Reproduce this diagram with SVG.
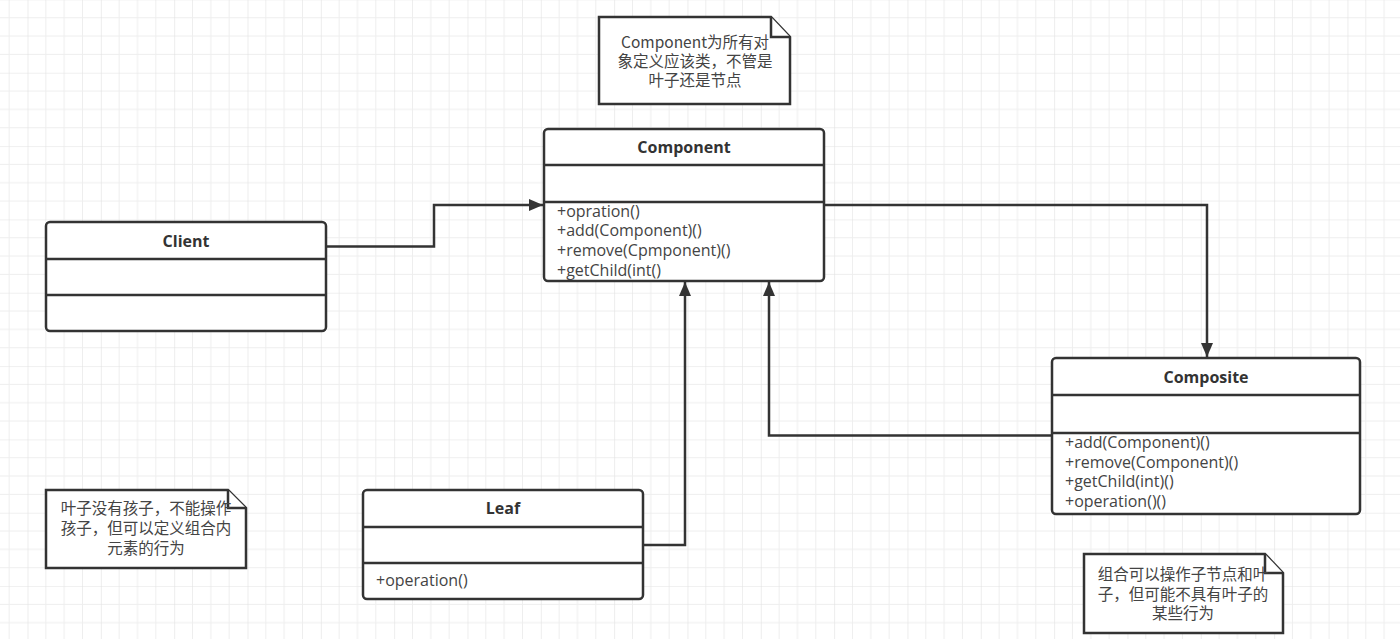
<svg xmlns="http://www.w3.org/2000/svg" width="1400" height="639" viewBox="0 0 1400 639">
<defs>
<pattern id="grid" patternUnits="userSpaceOnUse" x="27.5" y="-0.6" width="73.33" height="73.33">
<path d="M18.33 0V73.33M36.67 0V73.33M55 0V73.33M0 18.33H73.33M0 36.67H73.33M0 55H73.33" stroke="#eeeeee" stroke-width="1" fill="none"/>
<path d="M0 0V73.33M0 0H73.33" stroke="#e2e2e2" stroke-width="1.2" fill="none"/>
</pattern>
<marker id="arrow" viewBox="0 0 14 12" refX="14" refY="6" markerWidth="14" markerHeight="12" markerUnits="userSpaceOnUse" orient="auto">
<path d="M0 0L14 6L0 12Z" fill="#333"/>
</marker>
<style>
.box{fill:#fff;stroke:#333;stroke-width:2.5}
.sep{stroke:#333;stroke-width:2.5}
.title{font-family:"Open Sans","Noto Sans CJK SC",sans-serif;font-size:16px;font-weight:bold;fill:#333;text-anchor:middle}
.m{font-family:"Open Sans","Noto Sans CJK SC",sans-serif;font-size:16px;fill:#444}
.note{fill:#fff;stroke:#333;stroke-width:2.5;stroke-linejoin:miter}
.nt{font-family:"Noto Sans CJK SC",sans-serif;font-size:15.5px;fill:#444;text-anchor:middle}
.c{fill:none;stroke:#333;stroke-width:2.5}
</style>
</defs>
<rect width="1400" height="639" fill="#fff"/>
<rect width="1400" height="639" fill="url(#grid)"/>

<g id="connectors">
<path class="c" d="M327 246.5H434V205H543" marker-end="url(#arrow)"/>
<path class="c" d="M824 205H1207V357" marker-end="url(#arrow)"/>
<path class="c" d="M1052 435.5H769V282" marker-end="url(#arrow)"/>
<path class="c" d="M643 545H685V282" marker-end="url(#arrow)"/>
</g>

<g id="note-component">
<path class="note" d="M599 17H771L790 37V104H599Z"/>
<path class="note" d="M771 17V37H790" fill="none"/>
<text class="nt" x="695" y="48">Component为所有对</text>
<text class="nt" x="695" y="67">象定义应该类，不管是</text>
<text class="nt" x="695" y="86">叶子还是节点</text>
</g>

<g id="component">
<rect class="box" x="544" y="129" width="280" height="152" rx="4"/>
<line class="sep" x1="544" y1="165" x2="824" y2="165"/>
<line class="sep" x1="544" y1="202" x2="824" y2="202"/>
<text class="title" x="684" y="153">Component</text>
<text class="m" x="557" y="217">+opration()</text>
<text class="m" x="557" y="236">+add(Component)()</text>
<text class="m" x="557" y="256">+remove(Cpmponent)()</text>
<text class="m" x="557" y="276">+getChild(int()</text>
</g>

<g id="client">
<rect class="box" x="46" y="222" width="280" height="109" rx="4"/>
<line class="sep" x1="46" y1="259" x2="326" y2="259"/>
<line class="sep" x1="46" y1="295" x2="326" y2="295"/>
<text class="title" x="186" y="247">Client</text>
</g>

<g id="composite">
<rect class="box" x="1052" y="358" width="308" height="156" rx="4"/>
<line class="sep" x1="1052" y1="395" x2="1360" y2="395"/>
<line class="sep" x1="1052" y1="433" x2="1360" y2="433"/>
<text class="title" x="1206" y="383">Composite</text>
<text class="m" x="1065" y="448">+add(Component)()</text>
<text class="m" x="1065" y="468">+remove(Component)()</text>
<text class="m" x="1065" y="487">+getChild(int)()</text>
<text class="m" x="1065" y="507">+operation()()</text>
</g>

<g id="leaf">
<rect class="box" x="363" y="490" width="280" height="109" rx="4"/>
<line class="sep" x1="363" y1="527" x2="643" y2="527"/>
<line class="sep" x1="363" y1="563" x2="643" y2="563"/>
<text class="title" x="503" y="514">Leaf</text>
<text class="m" x="376" y="586">+operation()</text>
</g>

<g id="note-leaf">
<path class="note" d="M46 490H228L246 508V568H46Z"/>
<path class="note" d="M228 490V508H246" fill="none"/>
<text class="nt" x="146" y="514">叶子没有孩子，不能操作</text>
<text class="nt" x="146" y="534">孩子，但可以定义组合内</text>
<text class="nt" x="146" y="554">元素的行为</text>
</g>

<g id="note-composite">
<path class="note" d="M1084 554H1265L1283 573V633H1084Z"/>
<path class="note" d="M1265 554V573H1283" fill="none"/>
<text class="nt" x="1183" y="580">组合可以操作子节点和叶</text>
<text class="nt" x="1183" y="600">子，但可能不具有叶子的</text>
<text class="nt" x="1183" y="619">某些行为</text>
</g>
</svg>
